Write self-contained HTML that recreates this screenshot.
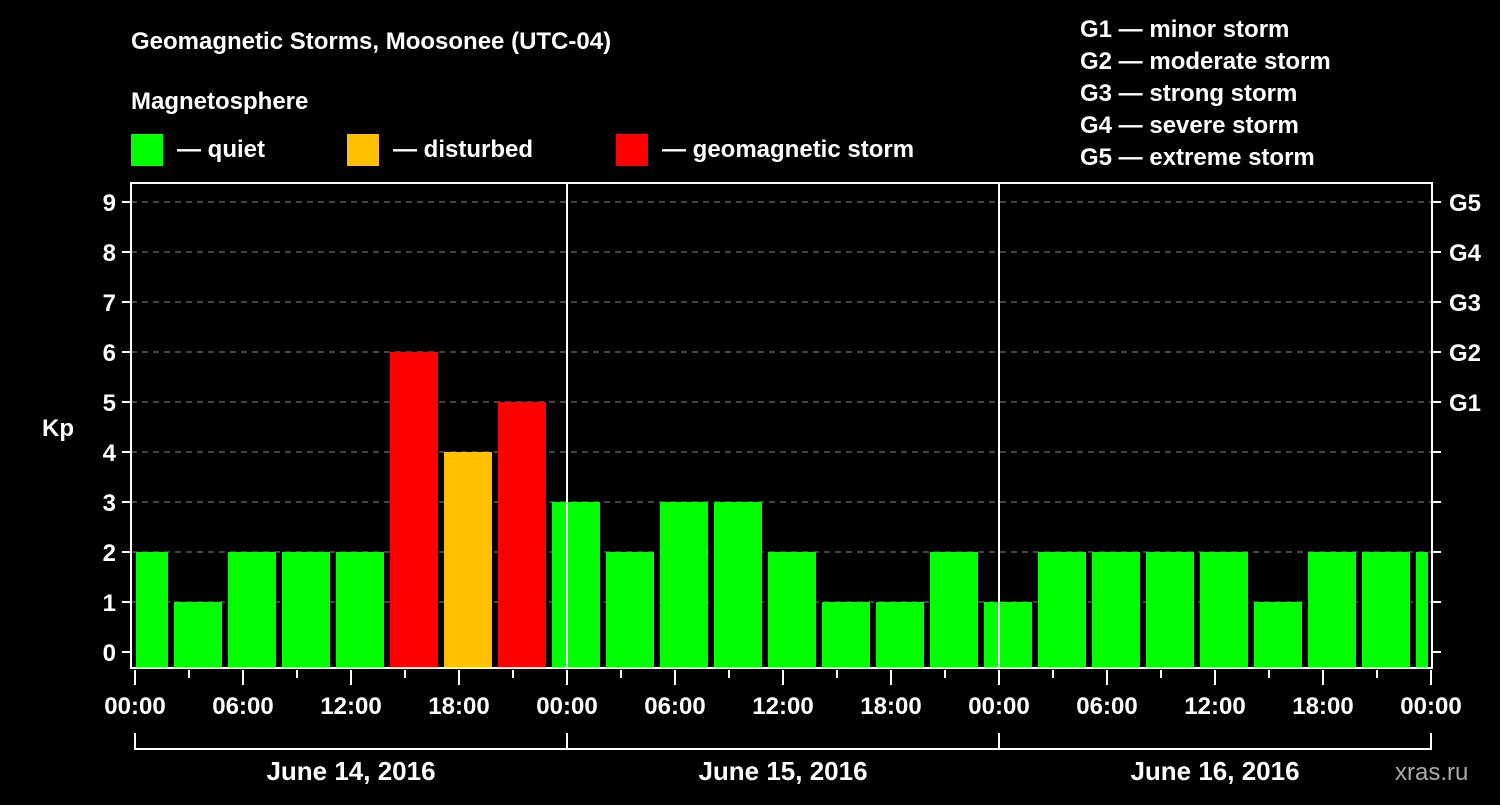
<!DOCTYPE html>
<html><head><meta charset="utf-8"><style>
body{margin:0;background:#000;}
svg text{font-family:"Liberation Sans",Arial,sans-serif;font-weight:bold;fill:#fff;}
</style></head><body>
<svg width="1500" height="800" xmlns="http://www.w3.org/2000/svg">
<rect width="1500" height="800" fill="#000"/>
<text x="131" y="49" font-size="24">Geomagnetic Storms, Moosonee (UTC-04)</text>
<text x="131" y="109" font-size="24">Magnetosphere</text>
<g><rect x="131" y="134" width="32" height="32" fill="#00ff00"/><text x="177" y="157" font-size="24">— quiet</text></g>
<g><rect x="347" y="134" width="32" height="32" fill="#ffc000"/><text x="393" y="157" font-size="24">— disturbed</text></g>
<g><rect x="616" y="134" width="32" height="32" fill="#ff0000"/><text x="662" y="157" font-size="24">— geomagnetic storm</text></g>
<g font-size="24">
<text x="1080" y="37">G1 — minor storm</text>
<text x="1080" y="69">G2 — moderate storm</text>
<text x="1080" y="101">G3 — strong storm</text>
<text x="1080" y="133">G4 — severe storm</text>
<text x="1080" y="165">G5 — extreme storm</text>
</g>
<text x="42" y="436" font-size="24">Kp</text>
<text x="1395" y="780" font-size="24" fill="#aaa" style="fill:#aaa;font-weight:normal">xras.ru</text>
<g id="grid"></g>
<g id="bars"></g>
<g id="axes"></g>
</svg>
<script>
const kpValues=[2,1,2,2,2,6,4,5,3,2,3,3,2,1,1,2,1,2,2,2,2,1,2,2,2];
const yTicks=[0,1,2,3,4,5,6,7,8,9];
const gLabels=["G1","G2","G3","G4","G5"];
const xTickLabels=["00:00","06:00","12:00","18:00","00:00","06:00","12:00","18:00","00:00","06:00","12:00","18:00","00:00"];
const dayLabels=["June 14, 2016","June 15, 2016","June 16, 2016"];
const NS="http://www.w3.org/2000/svg";
const X0=135,HOUR=18,L=131,R=1432,T=183,B=668;
function yS(v){return 652-50*v;}
function xS(h){return X0+h*HOUR;}
function mk(tag,attrs,parent,txt){const e=document.createElementNS(NS,tag);for(const k in attrs)e.setAttribute(k,attrs[k]);if(txt!==undefined)e.textContent=txt;parent.appendChild(e);return e;}
const grid=document.getElementById('grid'),bars=document.getElementById('bars'),axes=document.getElementById('axes');
yTicks.forEach(v=>{if(v===0)return;const l=mk('line',{x1:L,x2:R,y1:yS(v),y2:yS(v),stroke:'#888','stroke-dasharray':'6,5','stroke-width':1},grid);

});
kpValues.forEach((v,i)=>{const c=xS(0.5+3*i);let x1=Math.max(c-24,136),x2=Math.min(c+24,1428);if(x2<=x1)return;
const col=v>=5?'#ff0000':(v>=4?'#ffc000':'#00ff00');
const r=mk('rect',{x:x1,y:yS(v),width:x2-x1,height:667-yS(v),fill:col},bars);

});
const fr=mk('rect',{x:L,y:T,width:R-L,height:B-T,fill:'none',stroke:'#fff','stroke-width':2},axes);


[24,48].forEach(h=>{const l=mk('line',{x1:xS(h),x2:xS(h),y1:T,y2:B,stroke:'#fff','stroke-width':2},axes);

});
yTicks.forEach(v=>{mk('line',{x1:122,x2:L,y1:yS(v),y2:yS(v),stroke:'#fff','stroke-width':2},axes);
mk('line',{x1:R,x2:1441,y1:yS(v),y2:yS(v),stroke:'#fff','stroke-width':2},axes);
const t=mk('text',{x:116,y:yS(v)+9,'font-size':24,'text-anchor':'end'},axes,String(v));

});
gLabels.forEach((g,i)=>{const t=mk('text',{x:1449,y:yS(5+i)+9,'font-size':24},axes,g);

});
for(let h=0;h<=72;h+=3){const major=h%6===0;mk('line',{x1:xS(h),x2:xS(h),y1:670,y2:major?685:678,stroke:'#fff','stroke-width':2},axes);}
xTickLabels.forEach((s,i)=>{const t=mk('text',{x:xS(6*i),y:714,'font-size':24,'text-anchor':'middle'},axes,s);

});
mk('line',{x1:xS(0),x2:xS(72),y1:749,y2:749,stroke:'#fff','stroke-width':2},axes);
[0,24,48,72].forEach(h=>mk('line',{x1:xS(h),x2:xS(h),y1:733,y2:750,stroke:'#fff','stroke-width':2},axes));
dayLabels.forEach((s,i)=>{const t=mk('text',{x:xS(12+24*i),y:780,'font-size':26,'text-anchor':'middle'},axes,s);

});
</script>
</body></html>
